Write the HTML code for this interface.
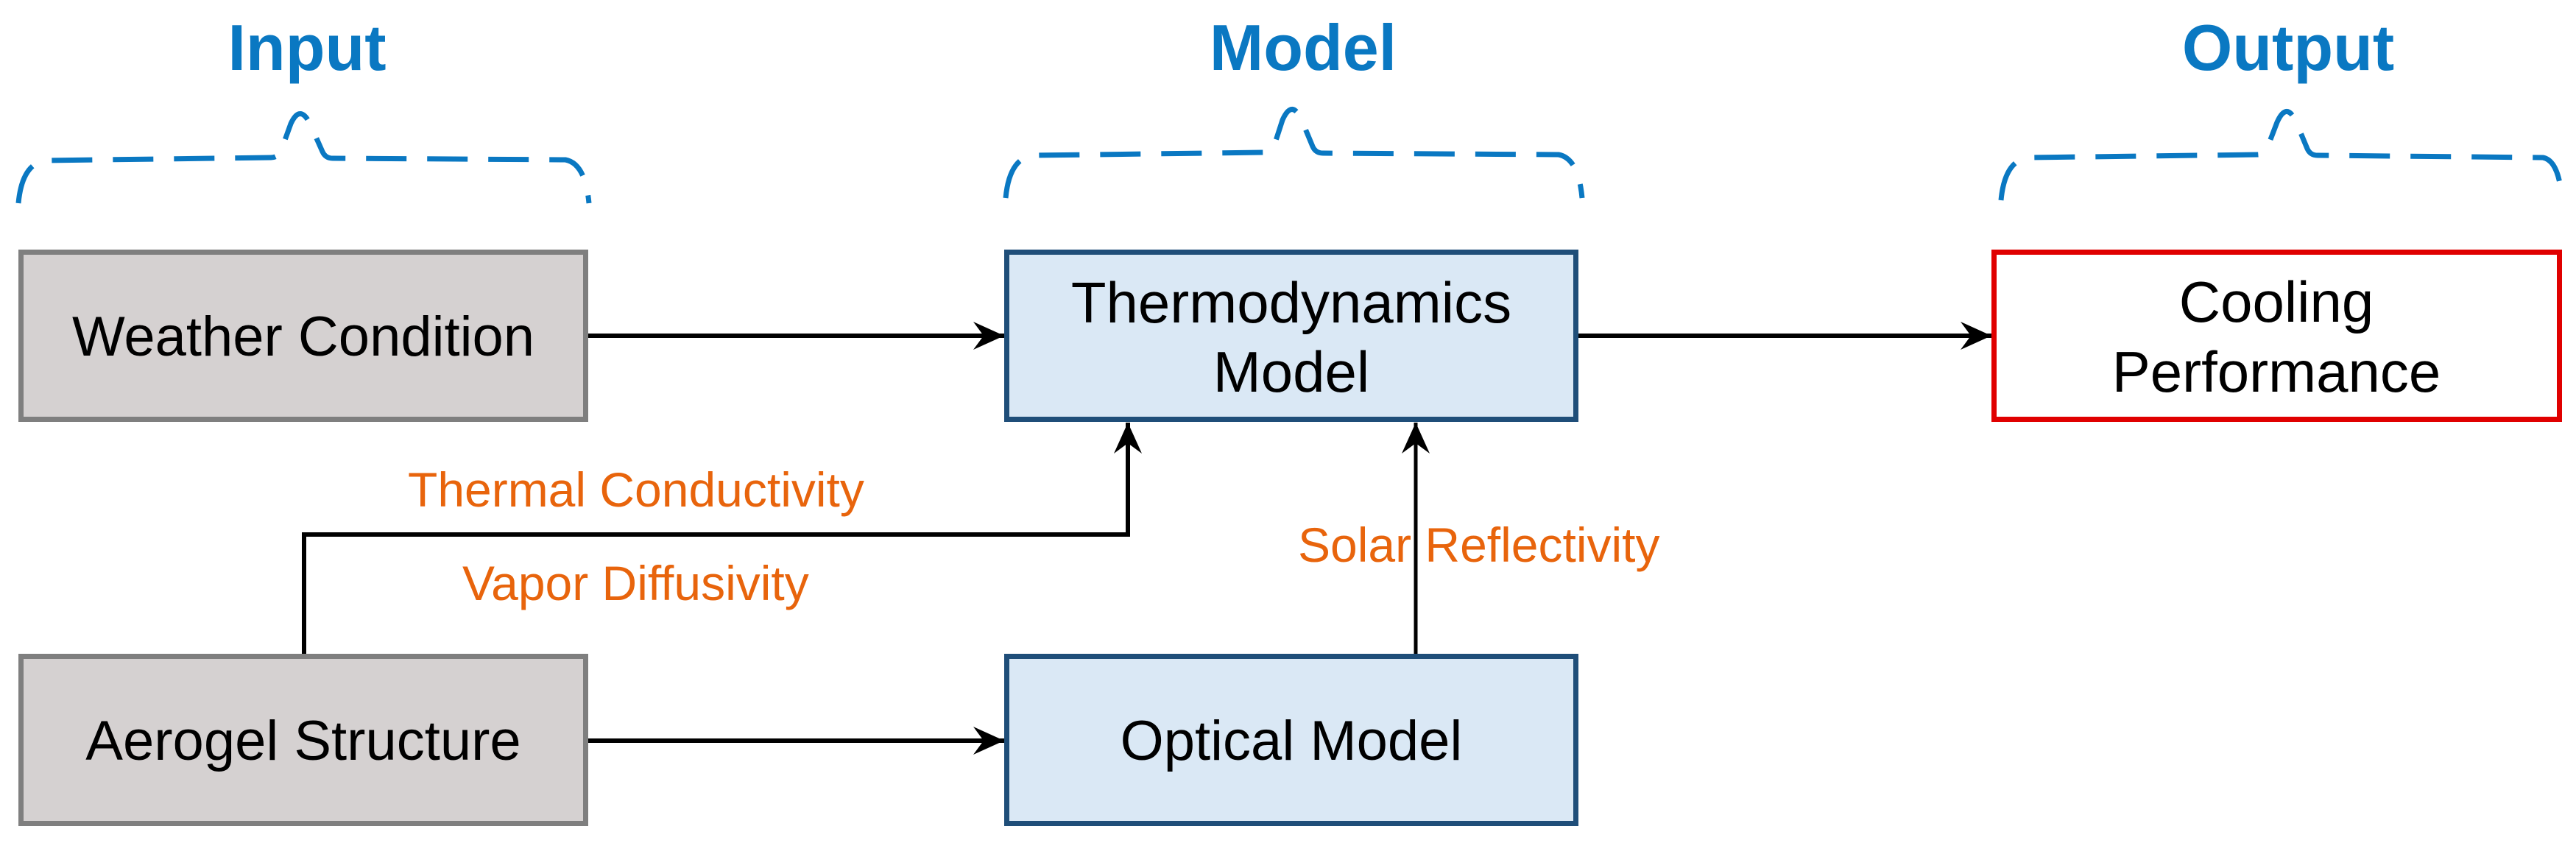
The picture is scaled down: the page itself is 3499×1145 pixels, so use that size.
<!DOCTYPE html>
<html><head><meta charset="utf-8"><style>
html,body{margin:0;padding:0;background:#fff;}
svg{display:block;}
text{font-family:"Liberation Sans",Arial,sans-serif;}
</style></head><body>
<svg width="3499" height="1145" viewBox="0 0 3499 1145" xmlns="http://www.w3.org/2000/svg">
<defs>
<marker id="ah" markerUnits="userSpaceOnUse" markerWidth="44" markerHeight="44" viewBox="0 0 44 44" refX="42" refY="22" orient="auto">
<path d="M0,3 L42,22 L0,41 L14,22 Z" fill="#000"/>
</marker>
</defs>

<text x="417" y="95" font-size="88" font-weight="bold" fill="#0a78c2" text-anchor="middle">Input</text>
<text x="1770" y="95" font-size="88" font-weight="bold" fill="#0a78c2" text-anchor="middle">Model</text>
<text x="3108" y="95" font-size="88" font-weight="bold" fill="#0a78c2" text-anchor="middle">Output</text>

<g fill="none" stroke="#0a78c2" stroke-width="7" stroke-dasharray="55 28">
<path d="M25,276 Q30,222 62,218 L368,214 Q378,214 382,204 L395,168 Q408,140 422,170 L438,206 Q442,215 452,215 L768,217 Q795,222 800,276"/>
<path d="M1366,269 Q1371,215 1403,211 L1717,207 Q1727,207 1731,197 L1742,163 Q1755,134 1768,163 L1783,199 Q1787,208 1797,208 L2117,210 Q2144,215 2149,269"/>
<path d="M2718,272 Q2723,218 2755,214 L3066,210 Q3076,210 3080,200 L3093,166 Q3106,137 3119,166 L3134,202 Q3138,211 3148,211 L3454,214 Q3476,218 3480,272"/>
</g>

<rect x="28.5" y="342.5" width="767" height="227" fill="#d5d1d1" stroke="#7f7f7f" stroke-width="7"/>
<rect x="28.5" y="891.5" width="767" height="227" fill="#d5d1d1" stroke="#7f7f7f" stroke-width="7"/>
<rect x="1367.5" y="342.5" width="773" height="227" fill="#dae8f5" stroke="#1f4e79" stroke-width="7"/>
<rect x="1367.5" y="891.5" width="773" height="227" fill="#dae8f5" stroke="#1f4e79" stroke-width="7"/>
<rect x="2708.5" y="342.5" width="768" height="227" fill="#fff" stroke="#e00000" stroke-width="7"/>

<g font-size="76" fill="#000" text-anchor="middle">
<text x="412" y="483">Weather Condition</text>
<text x="412" y="1032">Aerogel Structure</text>
<text x="1754" y="438" font-size="78">Thermodynamics</text>
<text x="1754" y="532" font-size="78">Model</text>
<text x="1754" y="1032">Optical Model</text>
<text x="3092" y="437" font-size="78">Cooling</text>
<text x="3092" y="532" font-size="78">Performance</text>
</g>

<g fill="none" stroke="#000" stroke-width="6">
<line x1="799" y1="456" x2="1364" y2="456" marker-end="url(#ah)"/>
<line x1="2144" y1="456" x2="2705" y2="456" marker-end="url(#ah)"/>
<line x1="799" y1="1006" x2="1364" y2="1006" marker-end="url(#ah)"/>
<polyline points="413,888 413,726 1532,726 1532,574" marker-end="url(#ah)"/>
<line x1="1923" y1="888" x2="1923" y2="574" stroke-width="5" marker-end="url(#ah)"/>
</g>

<g font-size="66" fill="#e8640c">
<text x="554" y="688">Thermal Conductivity</text>
<text x="628" y="815">Vapor Diffusivity</text>
<text x="1763" y="763">Solar Reflectivity</text>
</g>
</svg>
</body></html>
